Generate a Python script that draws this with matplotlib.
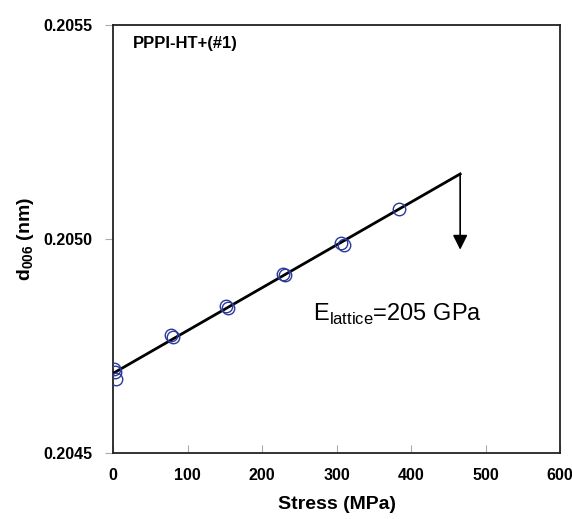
import matplotlib
matplotlib.use("Agg", force=True)
import matplotlib.pyplot as plt

plt.rcParams["font.family"] = ["Liberation Sans", "DejaVu Sans"]

stress = [2, 3, 4, 78, 80, 152, 155, 228, 231, 306, 310, 384]
d006 = [0.204696, 0.204690, 0.204673, 0.204776, 0.204770, 0.204843, 0.204838,
        0.204918, 0.204917, 0.204991, 0.204987, 0.205070]

fit_x = [0, 466]
fit_y = [0.204686, 0.205152]
arrow_x = 466
arrow_y_end = 0.204975

x_ticks = [0, 100, 200, 300, 400, 500, 600]
y_ticks = [0.2045, 0.2050, 0.2055]

fig = plt.figure(figsize=(5.72, 5.19), dpi=100)
ax = fig.add_axes([113 / 572, 1 - 453 / 519, (560 - 113) / 572, (453 - 25) / 519])

ax.plot(fit_x, fit_y, color="black", lw=2, zorder=3)
ax.plot(stress, d006, "o", mfc="none", mec="#2b3a9a", ms=9, mew=1, zorder=4)
ax.annotate("", xy=(arrow_x, arrow_y_end), xytext=(arrow_x, fit_y[1]),
            arrowprops=dict(arrowstyle="-|>", color="black", lw=1.2,
                            mutation_scale=22, shrinkA=0, shrinkB=0))

ax.text(268, 0.20481, r"E$_{\mathregular{lattice}}$=205 GPa", fontsize=17)
ax.text(0.045, 0.975, "PPPI-HT+(#1)", transform=ax.transAxes, fontsize=12,
        fontweight="bold", va="top")

ax.set_xlim(0, 600)
ax.set_ylim(0.2045, 0.2055)
ax.set_xticks(x_ticks)
ax.set_yticks(y_ticks)
ax.set_yticklabels([f"{v:.4f}" for v in y_ticks])
ax.tick_params(axis="x", direction="in", length=6, color="#aaaaaa", pad=11)
ax.tick_params(axis="y", direction="out", length=6, color="#aaaaaa", pad=9)
for lab in ax.get_xticklabels() + ax.get_yticklabels():
    lab.set_fontweight("bold")
    lab.set_fontsize(11.5)

for sp in ax.spines.values():
    sp.set_linewidth(1.3)
    sp.set_color("#222222")

ax.set_xlabel("Stress (MPa)", fontsize=14, fontweight="bold", labelpad=9)
ax.set_ylabel(r"d$_{\mathregular{006}}$ (nm)", fontsize=14, fontweight="bold", labelpad=5)

fig.savefig("out.png", dpi=100)
